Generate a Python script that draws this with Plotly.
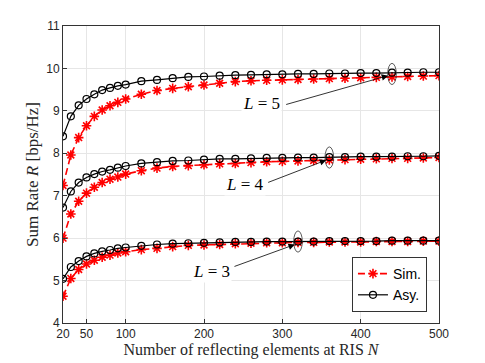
import plotly.graph_objects as go

# number of reflecting elements
N = [20, 30, 40, 50, 60, 70, 80, 90, 100, 120, 140, 160, 180, 200, 220, 240,
     260, 280, 300, 320, 340, 360, 380, 400, 420, 440, 460, 480, 500]

# L = 5
asy_l5 = [8.40, 8.87, 9.13, 9.28, 9.39, 9.49, 9.54, 9.59, 9.62, 9.70, 9.73, 9.77, 9.80, 9.81, 9.83, 9.84,
          9.85, 9.86, 9.86, 9.87, 9.87, 9.88, 9.88, 9.89, 9.89, 9.90, 9.90, 9.91, 9.91]
sim_l5 = [7.24, 7.96, 8.37, 8.65, 8.87, 9.02, 9.12, 9.20, 9.28, 9.39, 9.48, 9.53, 9.57, 9.61, 9.65, 9.69,
          9.71, 9.72, 9.73, 9.74, 9.75, 9.76, 9.77, 9.78, 9.79, 9.80, 9.81, 9.82, 9.83]
# L = 4
asy_l4 = [6.72, 7.10, 7.31, 7.43, 7.51, 7.57, 7.61, 7.66, 7.70, 7.76, 7.79, 7.82, 7.83, 7.85, 7.87, 7.87,
          7.88, 7.89, 7.89, 7.90, 7.90, 7.91, 7.91, 7.92, 7.92, 7.92, 7.93, 7.93, 7.94]
sim_l4 = [6.00, 6.57, 6.87, 7.06, 7.20, 7.31, 7.39, 7.44, 7.51, 7.59, 7.65, 7.69, 7.71, 7.73, 7.75, 7.76,
          7.78, 7.80, 7.81, 7.82, 7.83, 7.84, 7.85, 7.86, 7.87, 7.88, 7.88, 7.89, 7.90]
# L = 3
asy_l3 = [5.04, 5.32, 5.46, 5.57, 5.64, 5.69, 5.72, 5.76, 5.78, 5.82, 5.85, 5.87, 5.88, 5.89, 5.90, 5.91,
          5.91, 5.92, 5.92, 5.92, 5.92, 5.93, 5.93, 5.93, 5.93, 5.94, 5.94, 5.94, 5.94]
sim_l3 = [4.63, 5.05, 5.26, 5.39, 5.48, 5.55, 5.60, 5.65, 5.68, 5.73, 5.76, 5.80, 5.83, 5.84, 5.85, 5.87,
          5.88, 5.89, 5.89, 5.90, 5.90, 5.91, 5.91, 5.91, 5.92, 5.92, 5.92, 5.93, 5.93]

x_ticks = [20, 50, 100, 200, 300, 400, 500]
y_ticks = [4, 5, 6, 7, 8, 9, 10, 11]

# annotation: label, text pos, arrow tail, arrow head, ellipse centre
labels = [
    ("5", (274, 9.18), (303, 9.14), (435, 9.83), (440, 9.87)),
    ("4", (252, 7.27), (280, 7.30), (356, 7.84), (360, 7.90)),
    ("3", (209, 5.22), (237, 5.32), (316, 5.85), (320, 5.92)),
]

serif = "Liberation Serif"
sans = "Liberation Sans"

fig = go.Figure()
groups = [(sim_l5, asy_l5), (sim_l4, asy_l4), (sim_l3, asy_l3)]
for i, (sim, asy) in enumerate(groups):
    fig.add_trace(go.Scatter(
        x=N, y=sim, mode="lines+markers", name="Sim.", showlegend=(i == 0),
        legendrank=1,
        line=dict(color="red", width=1.6, dash="7px,4px"),
        marker=dict(symbol="asterisk-open", size=8, color="red", line=dict(color="red", width=1.6))))
for i, (sim, asy) in enumerate(groups):
    fig.add_trace(go.Scatter(
        x=N, y=asy, mode="lines+markers", name="Asy.", showlegend=(i == 0),
        legendrank=2,
        line=dict(color="black", width=1.2),
        marker=dict(symbol="circle-open", size=7, color="black", line=dict(color="black", width=1.2))))

for lv, tpos, tail, head, ell in labels:
    fig.add_annotation(x=tpos[0], y=tpos[1], text="<i>L</i> = " + lv, showarrow=False,
                       font=dict(family=serif, size=17, color="black"),
                       bgcolor="white")
    fig.add_annotation(x=head[0], y=head[1], ax=tail[0], ay=tail[1], axref="x", ayref="y",
                       text="", showarrow=True, arrowhead=2, arrowsize=1.6, arrowwidth=0.8,
                       arrowcolor="black")
    fig.add_shape(type="circle", xref="x", yref="y",
                  x0=ell[0] - 5.5, x1=ell[0] + 5.5, y0=ell[1] - 0.25, y1=ell[1] + 0.25,
                  line=dict(color="#333333", width=0.8))

fig.update_xaxes(range=[20, 500], tickvals=x_ticks, showgrid=True, gridcolor="#e6e6e6",
                 showline=True, linecolor="#333333", linewidth=1, mirror=True,
                 ticks="inside", ticklen=4, tickcolor="#333333", zeroline=False,
                 automargin=False,
                 tickfont=dict(family=sans, size=12, color="#262626"),
                 title=dict(text="Number of reflecting elements at RIS <i>N</i>",
                            font=dict(family=serif, size=16, color="#262626"), standoff=1))
fig.update_yaxes(range=[4, 11], tickvals=y_ticks, showgrid=True, gridcolor="#e6e6e6",
                 showline=True, linecolor="#333333", linewidth=1, mirror=True,
                 ticks="inside", ticklen=4, tickcolor="#333333", zeroline=False,
                 automargin=False,
                 tickfont=dict(family=sans, size=12, color="#262626"),
                 title=dict(text="Sum Rate <i>R</i> [bps/Hz]",
                            font=dict(family=serif, size=17, color="#262626"), standoff=3))

# page body adds an 8px offset, so the figure is a little smaller than the window
fig.update_layout(
    width=477, height=355, paper_bgcolor="white", plot_bgcolor="white",
    margin=dict(l=55, r=46, t=18, b=40),
    legend=dict(x=0.968, y=0.037, xanchor="right", yanchor="bottom",
                bgcolor="white", bordercolor="#333333", borderwidth=1,
                font=dict(family=sans, size=14, color="black"),
                tracegroupgap=0, itemwidth=30),
)

fig.write_html("out.html")
